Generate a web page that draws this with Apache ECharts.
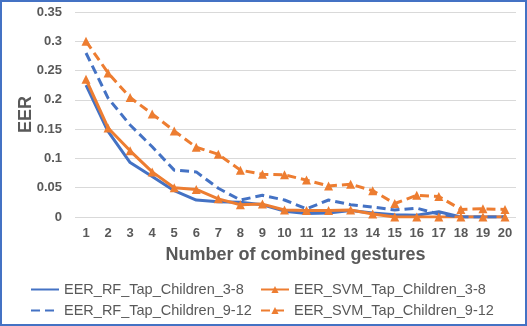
<!DOCTYPE html>
<html>
<head>
<meta charset="utf-8">
<script src="https://cdn.jsdelivr.net/npm/echarts@6/dist/echarts.min.js"></script>
<style>
  html, body { margin: 0; padding: 0; background: #fff; }
  #chart {
    width: 527px;
    height: 326px;
    box-sizing: border-box;
    border: 2px solid #4472C4;
  }
</style>
</head>
<body>
<div id="chart"></div>
<script>
// x categories: number of combined gestures
const gestures = ['1', '2', '3', '4', '5', '6', '7', '8', '9', '10',
  '11', '12', '13', '14', '15', '16', '17', '18', '19', '20'];

const rfChildren38 = [0.225, 0.146, 0.093, 0.069, 0.045, 0.029, 0.026, 0.025, 0.021, 0.010,
  0.006, 0.007, 0.011, 0.007, 0.004, 0.003, 0.009, 0, 0, 0];
const svmChildren38 = [0.235, 0.152, 0.113, 0.077, 0.050, 0.047, 0.031, 0.021, 0.022, 0.012,
  0.011, 0.011, 0.012, 0.005, 0, 0, 0, 0, 0, 0];
const rfChildren912 = [0.280, 0.203, 0.157, 0.120, 0.080, 0.077, 0.049, 0.029, 0.037, 0.029,
  0.014, 0.029, 0.021, 0.017, 0.012, 0.015, 0.005, 0, 0, 0];
const svmChildren912 = [0.300, 0.246, 0.204, 0.176, 0.147, 0.119, 0.107, 0.080, 0.073, 0.072,
  0.063, 0.053, 0.056, 0.045, 0.023, 0.037, 0.035, 0.013, 0.014, 0.013];

const BLUE = '#4472C4';
const ORANGE = '#ED7D31';
const TEXT = '#595959';
const FONT = '"Liberation Sans", Arial, sans-serif';

function makeSeries(name, data, color, dashed, triangles) {
  return {
    name: name,
    type: 'line',
    data: data,
    color: color,
    symbol: triangles ? 'triangle' : 'none',
    symbolSize: 9,
    showSymbol: triangles,
    lineStyle: { width: 3, type: dashed ? [9, 5] : 'solid', color: color },
    itemStyle: { color: color },
    animation: false,
  };
}

function legendAt(name, hideSymbol, left, top) {
  const item = { name: name };
  if (hideSymbol) item.itemStyle = { opacity: 0 };
  return {
    data: [item],
    left: left,
    top: top,
    padding: 0,
    itemWidth: 28,
    itemHeight: 9,
    textStyle: { color: TEXT, fontSize: 14.5, fontFamily: FONT },
  };
}

const chart = echarts.init(document.getElementById('chart'));
chart.setOption({
  backgroundColor: '#fff',
  textStyle: { fontFamily: FONT },
  grid: { left: 73, right: 9, top: 10, bottom: 107 },
  legend: [
    legendAt('EER_RF_Tap_Children_3-8', true, 28, 280),
    legendAt('EER_SVM_Tap_Children_3-8', false, 258, 280),
    legendAt('EER_RF_Tap_Children_9-12', true, 28, 301),
    legendAt('EER_SVM_Tap_Children_9-12', false, 258, 301),
  ],
  xAxis: {
    type: 'category',
    data: gestures,
    boundaryGap: true,
    name: 'Number of combined gestures',
    nameLocation: 'middle',
    nameGap: 29,
    nameTextStyle: { color: TEXT, fontSize: 18, fontWeight: 'bold', fontFamily: FONT },
    axisLine: { show: false },
    axisTick: { show: false },
    axisLabel: { color: TEXT, fontSize: 13, fontWeight: 'bold', margin: 10, interval: 0 },
  },
  yAxis: {
    type: 'value',
    min: 0,
    max: 0.35,
    interval: 0.05,
    name: 'EER',
    nameLocation: 'middle',
    nameRotate: 90,
    nameGap: 40,
    nameMoveOverlap: false,
    nameTextStyle: { color: TEXT, fontSize: 18, fontWeight: 'bold', fontFamily: FONT },
    axisLine: { show: false },
    axisTick: { show: false },
    axisLabel: { color: TEXT, fontSize: 13, fontWeight: 'bold', margin: 13 },
    splitLine: { lineStyle: { color: '#D9D9D9', width: 1 } },
  },
  series: [
    makeSeries('EER_RF_Tap_Children_3-8', rfChildren38, BLUE, false, false),
    makeSeries('EER_SVM_Tap_Children_3-8', svmChildren38, ORANGE, false, true),
    makeSeries('EER_RF_Tap_Children_9-12', rfChildren912, BLUE, true, false),
    makeSeries('EER_SVM_Tap_Children_9-12', svmChildren912, ORANGE, true, true),
  ],
});
</script>
</body>
</html>
